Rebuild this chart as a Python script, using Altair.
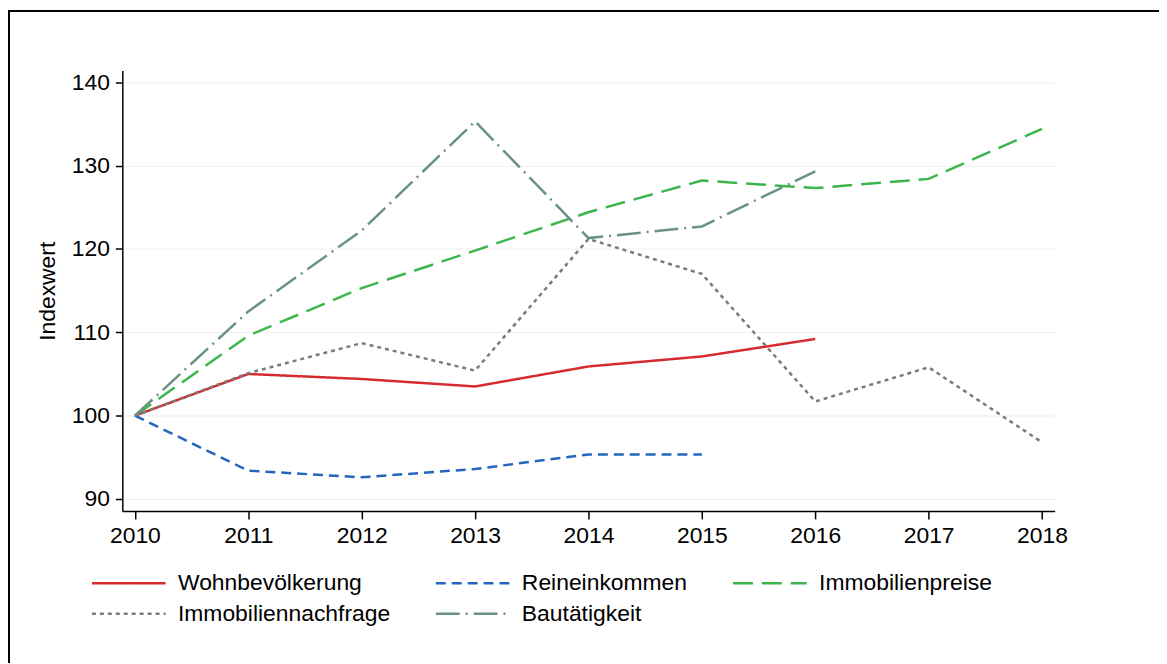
import altair as alt
import pandas as pd

years = [2010, 2011, 2012, 2013, 2014, 2015, 2016, 2017, 2018]

series_names = ["Wohnbevölkerung", "Reineinkommen", "Immobilienpreise",
                "Immobiliennachfrage", "Bautätigkeit"]

wohnbevoelkerung = [100, 105.0, 104.4, 103.5, 105.9, 107.1, 109.2]
reineinkommen = [100, 93.4, 92.6, 93.6, 95.35, 95.35]
immobilienpreise = [100, 109.6, 115.3, 119.8, 124.4, 128.2, 127.3, 128.4, 134.4]
immobiliennachfrage = [100, 105.1, 108.7, 105.4, 121.2, 117.0, 101.7, 105.8, 96.8]
bautaetigkeit = [100, 112.5, 122.2, 135.3, 121.3, 122.7, 129.3]

colors = ["#d62a2e", "#2466be", "#3cb64c", "#7a7a7a", "#6a9282"]
dashes = [[1, 0], [10, 6], [20, 9], [4, 4], [24, 6, 2, 6]]

values = [wohnbevoelkerung, reineinkommen, immobilienpreise,
          immobiliennachfrage, bautaetigkeit]

rows = []
for name, vals in zip(series_names, values):
    for y, v in zip(years, vals):
        rows.append({"Jahr": y, "Wert": v, "Serie": name})
df = pd.DataFrame(rows)

FONT = "Liberation Sans"
FS = 23

lines = alt.Chart(df).mark_line(strokeWidth=2.5, clip=False).encode(
    x=alt.X("Jahr:Q",
            scale=alt.Scale(domain=[2009.889, 2018.111], nice=False, zero=False),
            axis=alt.Axis(values=years, format="d", title=None, grid=False,
                          tickSize=8, labelPadding=6, labelFontSize=FS)),
    y=alt.Y("Wert:Q",
            scale=alt.Scale(domain=[88.57, 141.39], nice=False, zero=False),
            axis=alt.Axis(values=[90, 100, 110, 120, 130, 140], title="Indexwert",
                          grid=True, tickSize=7, labelPadding=6, labelFontSize=FS,
                          titleFontSize=FS, titleFontWeight="normal",
                          titlePadding=12)),
    color=alt.Color("Serie:N",
                    scale=alt.Scale(domain=series_names, range=colors),
                    legend=alt.Legend(title=None, orient="none", legendX=-10,
                                      legendY=499, direction="horizontal",
                                      columns=3, symbolType="M-2.47,0H2.47",
                                      symbolSize=900, symbolStrokeWidth=2.5,
                                      labelFontSize=FS, labelLimit=0,
                                      columnPadding=40, rowPadding=2,
                                      labelOffset=33, gridAlign="each",
                                      padding=0)),
    strokeDash=alt.StrokeDash("Serie:N",
                              scale=alt.Scale(domain=series_names, range=dashes),
                              legend=alt.Legend(title=None)),
    detail="Serie:N",
    order=alt.Order("Jahr:Q"),
)

frame_df = pd.DataFrame([{"k": 0}])
frame_top = alt.Chart(frame_df).mark_rule(color="black", strokeWidth=2).encode(
    x=alt.value(-115), x2=alt.value(1200), y=alt.value(-60))
frame_left = alt.Chart(frame_df).mark_rule(color="black", strokeWidth=2).encode(
    x=alt.value(-114), y=alt.value(-60), y2=alt.value(700))

chart = alt.layer(frame_top, frame_left, lines).properties(
    width=938, height=443,
    autosize=alt.AutoSizeParams(type="none"),
    padding={"left": 115, "top": 61, "right": 105, "bottom": 151},
).configure(
    font=FONT,
).configure_view(
    stroke=None,
).configure_axis(
    domainColor="black", domainWidth=1.5, tickColor="black", tickWidth=1.5,
    labelColor="black", titleColor="black", gridColor="#efefef", gridWidth=1,
    labelFont=FONT, titleFont=FONT,
).configure_legend(
    labelColor="black", labelFont=FONT,
)

chart.save("out.html", embed_options={"renderer": "svg", "actions": False})
